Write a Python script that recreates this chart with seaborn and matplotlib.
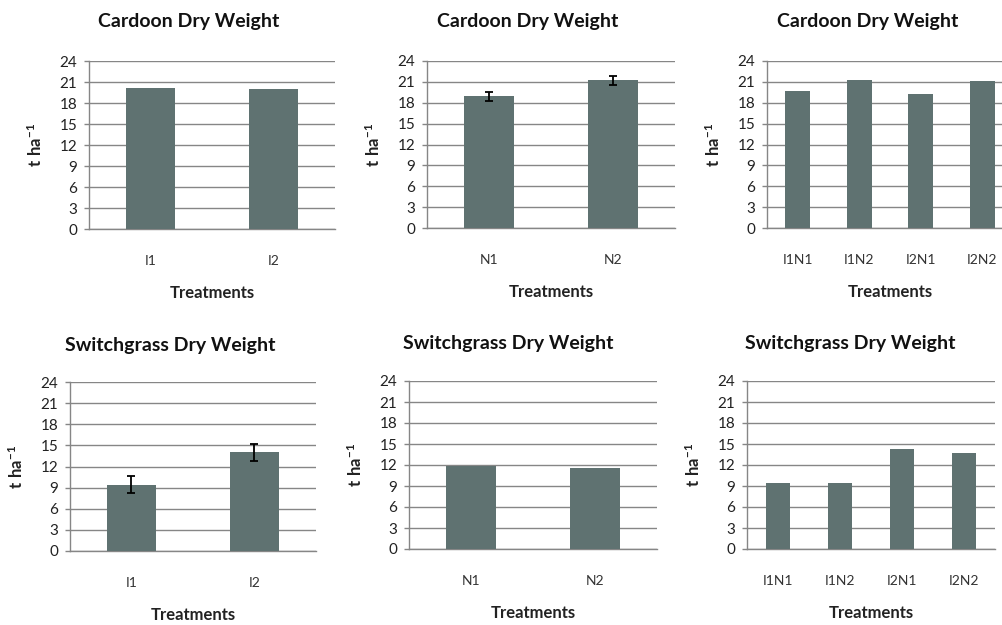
import matplotlib
matplotlib.use("Agg")
import matplotlib.pyplot as plt
import seaborn as sns
import numpy as np

# Treatment categories
irrigation = ["I1", "I2"]
nitrogen = ["N1", "N2"]
combined = ["I1N1", "I1N2", "I2N1", "I2N2"]

# Dry weight (t/ha)
cardoon_irr = [20.2, 20.0]
cardoon_nit = [18.9, 21.2]
cardoon_nit_err = [0.7, 0.7]
cardoon_comb = [19.7, 21.3, 19.3, 21.1]

switch_irr = [9.4, 14.0]
switch_irr_err = [1.2, 1.2]
switch_nit = [11.9, 11.6]
switch_comb = [9.4, 9.4, 14.3, 13.7]

yticks = [0, 3, 6, 9, 12, 15, 18, 21, 24]

sns.set_theme(style="white")
plt.rcParams["font.family"] = ["Lato", "DejaVu Sans"]
plt.rcParams["mathtext.fontset"] = "custom"
plt.rcParams["mathtext.rm"] = "Lato"
plt.rcParams["mathtext.bf"] = "Lato:bold"

W, H = 1003, 625
fig = plt.figure(figsize=(W / 100, H / 100), dpi=100)
fig.patch.set_facecolor("white")

BAR = "#5f7271"
GRID = "#868686"


def add_axes(left, right, top, bottom):
    return fig.add_axes([left / W, 1 - bottom / H, (right - left) / W, (bottom - top) / H])


panels = [
    # (box, title, title_xy, cats, vals, errs)
    ((89, 335, 61, 229), "Cardoon Dry Weight", (189, 22), irrigation, cardoon_irr, None),
    ((427, 675, 61, 228), "Cardoon Dry Weight", (528, 21), nitrogen, cardoon_nit, cardoon_nit_err),
    ((767, 1013, 61, 228), "Cardoon Dry Weight", (868, 22), combined, cardoon_comb, None),
    ((70, 316, 382, 551), "Switchgrass Dry Weight", (170, 345), irrigation, switch_irr, switch_irr_err),
    ((409, 657, 381, 549), "Switchgrass Dry Weight", (508, 344), nitrogen, switch_nit, None),
    ((747, 995, 381, 549), "Switchgrass Dry Weight", (850, 344), combined, switch_comb, None),
]

for box, title, (tx, ty), cats, vals, errs in panels:
    ax = add_axes(*box)
    sns.barplot(x=cats, y=vals, ax=ax, color=BAR, width=0.4, saturation=1,
                edgecolor="none", zorder=3)
    if errs is not None:
        ax.errorbar(np.arange(len(cats)), vals, yerr=errs, fmt="none",
                    ecolor="black", elinewidth=1.3, capsize=3, capthick=1.3, zorder=4)
    ax.set_ylim(0, 24)
    ax.set_xlim(-0.5, len(cats) - 0.5)
    ax.set_yticks(yticks)
    ax.set_yticklabels([str(t) for t in yticks], fontsize=11, color="#222222")
    ax.yaxis.grid(True, color=GRID, linewidth=1.0)
    ax.set_axisbelow(True)
    for s in ["top", "right"]:
        ax.spines[s].set_visible(False)
    ax.spines["left"].set_color(GRID)
    ax.spines["bottom"].set_color(GRID)
    ax.spines["left"].set_linewidth(1.0)
    ax.spines["bottom"].set_linewidth(1.0)
    ax.tick_params(axis="y", which="major", left=True, length=3.5, width=1,
                   color=GRID, pad=5)
    ax.tick_params(axis="x", length=0, pad=19, labelsize=10, labelcolor="#333333")
    ax.set_xlabel("Treatments", fontsize=12, fontweight="bold", labelpad=13, color="#222222")
    ax.set_ylabel(r"$\mathbf{t\ ha^{-1}}$", fontsize=12, color="#222222")
    ax.yaxis.set_label_coords(-44 / (box[1] - box[0]), 0.5)
    fig.text(tx / W, 1 - ty / H, title, ha="center", va="center",
             fontsize=14, fontweight="bold", color="#111111")

fig.savefig("out.png", dpi=100, facecolor="white")
